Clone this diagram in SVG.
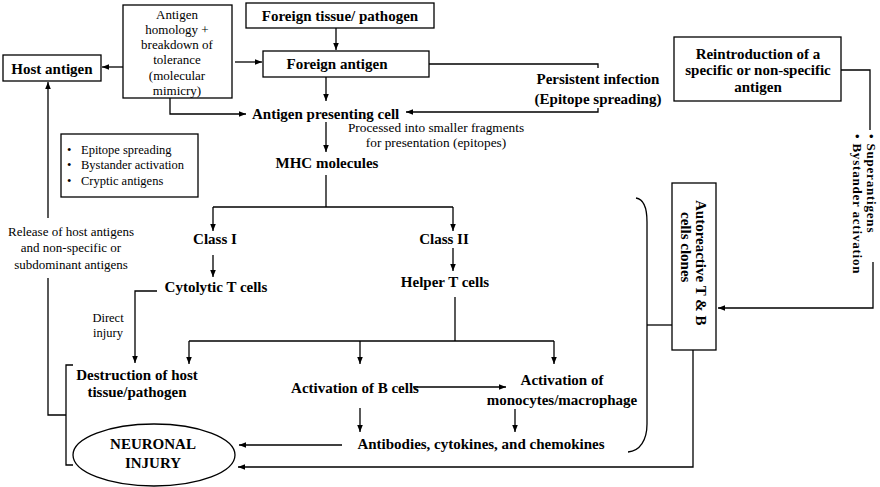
<svg xmlns="http://www.w3.org/2000/svg" width="880" height="487" viewBox="0 0 880 487">
<style>
text{font-family:"Liberation Serif","Times New Roman",serif;fill:#000}
.b{font-weight:bold;font-size:15px}
.n{font-size:13px}
.s{font-size:12.5px}
.p{font-size:13.3px}
.c{text-anchor:middle}
.v{font-weight:bold;font-size:13px;letter-spacing:0.8px}
.box{fill:#fff;stroke:#000;stroke-width:1.3}
.ln{fill:none;stroke:#000;stroke-width:1.3}
.ar{fill:none;stroke:#000;stroke-width:1.3;marker-end:url(#ah)}
</style>
<defs>
<marker id="ah" viewBox="0 0 10 10" refX="10" refY="5" markerWidth="7" markerHeight="7" orient="auto" markerUnits="userSpaceOnUse"><path d="M0,1 L10,5 L0,9 z" fill="#000"/></marker>
</defs>
<rect width="880" height="487" fill="#fff"/>

<g id="connectors">
<path class="ar" d="M336,28 V50"/>
<path class="ar" d="M123,67 H102"/>
<path class="ar" d="M235,62 H262"/>
<path class="ar" d="M170,98 V114 H246"/>
<path class="ar" d="M326,77 V101"/>
<path class="ln" d="M429,64 H598 V68"/>
<path class="ar" d="M598,108 V112 H406"/>
<path class="ar" d="M326,122 V152"/>
<path class="ln" d="M326,175 V207"/>
<path class="ln" d="M213,207 H453"/>
<path class="ar" d="M213,207 V231"/>
<path class="ar" d="M453,207 V231"/>
<path class="ar" d="M213,255 V277"/>
<path class="ar" d="M453,248 V271"/>
<path class="ar" d="M157,291 H135 V363"/>
<path class="ln" d="M455,297 V341"/>
<path class="ln" d="M189,341 H554"/>
<path class="ar" d="M189,341 V364"/>
<path class="ar" d="M360,341 V364"/>
<path class="ar" d="M554,341 V364"/>
<path class="ar" d="M413,387 H506"/>
<path class="ar" d="M360,408 V432"/>
<path class="ar" d="M515,409 V432"/>
<path class="ar" d="M342,445 H239"/>
<path class="ar" d="M693,350 V467 H238"/>
<path class="ln" d="M841,70 H870 V130"/>
<path class="ar" d="M873,262 V308 H718"/>
<path class="ln" d="M636,198 C643,199 647,206 647,222 V424 C647,440 640,451 628,452"/>
<path class="ln" d="M647,325 H672"/>
<path class="ln" d="M73,365 H66 V465 H73"/>
<path class="ln" d="M66,415 H48 V278"/>
<path class="ar" d="M48,218 V82"/>
</g>

<g id="foreign-tissue">
<rect class="box" x="246" y="3" width="188" height="25"/>
<text class="b c" x="340" y="21">Foreign tissue/ pathogen</text>
</g>

<g id="mimicry">
<rect class="box" x="123" y="5" width="109" height="93"/>
<text class="n c" x="177" y="19">Antigen</text>
<text class="n c" x="177" y="34">homology +</text>
<text class="n c" x="177" y="49">breakdown of</text>
<text class="n c" x="177" y="64">tolerance</text>
<text class="n c" x="177" y="80">(molecular</text>
<text class="n c" x="177" y="95">mimicry)</text>
</g>

<g id="host-antigen">
<rect class="box" x="3" y="55" width="98" height="26"/>
<text class="b c" x="52" y="74">Host antigen</text>
</g>

<g id="foreign-antigen">
<rect class="box" x="263" y="51" width="166" height="26"/>
<text class="b c" x="337" y="69">Foreign antigen</text>
</g>

<g id="persistent">
<text class="b c" x="598" y="84">Persistent infection</text>
<text class="b c" x="598" y="104">(Epitope spreading)</text>
</g>

<g id="reintroduction">
<rect class="box" x="674" y="37" width="167" height="64"/>
<text class="b c" x="758" y="59">Reintroduction  of a</text>
<text class="b c" x="758" y="75">specific or non-specific</text>
<text class="b c" x="758" y="92">antigen</text>
</g>

<g id="apc">
<text class="b" x="252" y="119">Antigen presenting cell</text>
</g>

<g id="processed">
<text class="p c" x="436" y="132">Processed into smaller fragments</text>
<text class="p c" x="436" y="147">for presentation (epitopes)</text>
</g>

<g id="mhc">
<text class="b c" x="327" y="168">MHC molecules</text>
</g>

<g id="mechanisms">
<rect class="box" x="61" y="134" width="137" height="63"/>
<text class="s" x="67" y="154">•</text><text class="s" x="81" y="154">Epitope spreading</text>
<text class="s" x="67" y="169">•</text><text class="s" x="81" y="169">Bystander activation</text>
<text class="s" x="67" y="185">•</text><text class="s" x="81" y="185">Cryptic antigens</text>
</g>

<g id="release">
<text class="n c" x="71" y="236">Release of host antigens</text>
<text class="n c" x="71" y="252">and non-specific  or</text>
<text class="n c" x="71" y="269">subdominant antigens</text>
</g>

<g id="class1">
<text class="b c" x="215" y="244">Class I</text>
</g>
<g id="class2">
<text class="b c" x="444" y="244">Class II</text>
</g>
<g id="cytolytic">
<text class="b c" x="216" y="292">Cytolytic  T cells</text>
</g>
<g id="helper">
<text class="b c" x="445" y="287">Helper  T cells</text>
</g>

<g id="direct-injury">
<text class="s c" x="108" y="322">Direct</text>
<text class="s c" x="108" y="337">injury</text>
</g>

<g id="destruction">
<text class="b c" x="137" y="380">Destruction  of host</text>
<text class="b c" x="137" y="397">tissue/pathogen</text>
</g>

<g id="b-cells">
<text class="b c" x="355" y="393">Activation  of B cells</text>
</g>

<g id="monocytes">
<text class="b c" x="562" y="385">Activation of</text>
<text class="b c" x="562" y="405">monocytes/macrophage</text>
</g>

<g id="antibodies">
<text class="b c" x="481" y="449">Antibodies,  cytokines,  and  chemokines</text>
</g>

<g id="neuronal-injury">
<ellipse class="box" cx="154" cy="455" rx="81" ry="31"/>
<text class="b c" x="153" y="449">NEURONAL</text>
<text class="b c" x="153" y="468">INJURY</text>
</g>

<g id="autoreactive">
<rect class="box" x="672" y="183" width="44" height="167"/>
<text class="b" transform="translate(696,200) rotate(90)">Autoreactive  T &amp; B</text>
<text class="b" transform="translate(681,212) rotate(90)">cells  clones</text>
</g>

<g id="super-bystander">
<text class="v" transform="translate(867,134) rotate(90)">•  Superantigens</text>
<text class="v" transform="translate(853,134) rotate(90)">•  Bystander activation</text>
</g>
</svg>
